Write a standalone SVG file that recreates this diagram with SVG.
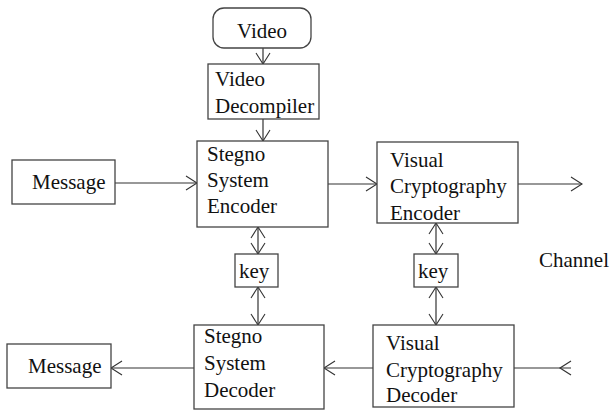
<svg xmlns="http://www.w3.org/2000/svg" width="611" height="410" viewBox="0 0 611 410">
<style>
.box{fill:#fff;stroke:#444;stroke-width:1.3}
.t{font-family:"Liberation Serif","Times New Roman",serif;font-size:21px;fill:#111}
.c{fill:none;stroke:#333;stroke-width:1.2}
</style>
<defs>
<marker id="ah" markerUnits="userSpaceOnUse" markerWidth="14" markerHeight="18" refX="12" refY="9" orient="auto-start-reverse">
<path d="M1,2 L12,9 L1,16" fill="none" stroke="#333" stroke-width="1.1"/>
</marker>
</defs>
<rect width="611" height="410" fill="#fff"/>
<g id="connectors">
<path class="c" d="M263,48 L263,64" marker-end="url(#ah)"/>
<path class="c" d="M263,119 L263,141" marker-end="url(#ah)"/>
<path class="c" d="M115,183 L197,183" marker-end="url(#ah)"/>
<path class="c" d="M328,184 L377,184" marker-end="url(#ah)"/>
<path class="c" d="M518,184 L582,184" marker-end="url(#ah)"/>
<path class="c" d="M258,227 L258,254" marker-start="url(#ah)" marker-end="url(#ah)"/>
<path class="c" d="M258,287 L258,325" marker-start="url(#ah)" marker-end="url(#ah)"/>
<path class="c" d="M436,223 L436,254" marker-start="url(#ah)" marker-end="url(#ah)"/>
<path class="c" d="M436,287 L436,325" marker-start="url(#ah)" marker-end="url(#ah)"/>
<path class="c" d="M373,368 L324,368" marker-end="url(#ah)"/>
<path class="c" d="M194,368 L111,368" marker-end="url(#ah)"/>
<path class="c" d="M571,368 L514,368"/>
<path class="c" d="M571,361 L560,368 L571,375"/>
</g>
<g id="video">
<rect class="box" x="213" y="8" width="98" height="40" rx="11"/>
<text class="t" x="237" y="38">Video</text>
</g>
<g id="decompiler">
<rect class="box" x="208" y="64" width="111" height="55"/>
<text class="t" x="215" y="86">Video</text>
<text class="t" x="215" y="113">Decompiler</text>
</g>
<g id="message-in">
<rect class="box" x="12" y="160" width="103" height="44"/>
<text class="t" x="32" y="189">Message</text>
</g>
<g id="stegno-encoder">
<rect class="box" x="197" y="141" width="131" height="86"/>
<text class="t" x="207" y="161">Stegno</text>
<text class="t" x="207" y="187">System</text>
<text class="t" x="207" y="213">Encoder</text>
</g>
<g id="vc-encoder">
<rect class="box" x="377" y="142" width="141" height="81"/>
<text class="t" x="390" y="167">Visual</text>
<text class="t" x="390" y="193">Cryptography</text>
<text class="t" x="390" y="220">Encoder</text>
</g>
<g id="key-left">
<rect class="box" x="235" y="254" width="43" height="33"/>
<text class="t" x="239" y="278">key</text>
</g>
<g id="key-right">
<rect class="box" x="414" y="254" width="44" height="33"/>
<text class="t" x="418" y="278">key</text>
</g>
<g id="channel">
<text class="t" x="539" y="267">Channel</text>
</g>
<g id="stegno-decoder">
<rect class="box" x="194" y="325" width="130" height="84"/>
<text class="t" x="204" y="343">Stegno</text>
<text class="t" x="204" y="370">System</text>
<text class="t" x="204" y="397">Decoder</text>
</g>
<g id="vc-decoder">
<rect class="box" x="373" y="325" width="141" height="82"/>
<text class="t" x="386" y="350">Visual</text>
<text class="t" x="386" y="377">Cryptography</text>
<text class="t" x="386" y="402">Decoder</text>
</g>
<g id="message-out">
<rect class="box" x="7" y="344" width="104" height="44"/>
<text class="t" x="28" y="373">Message</text>
</g>
</svg>
